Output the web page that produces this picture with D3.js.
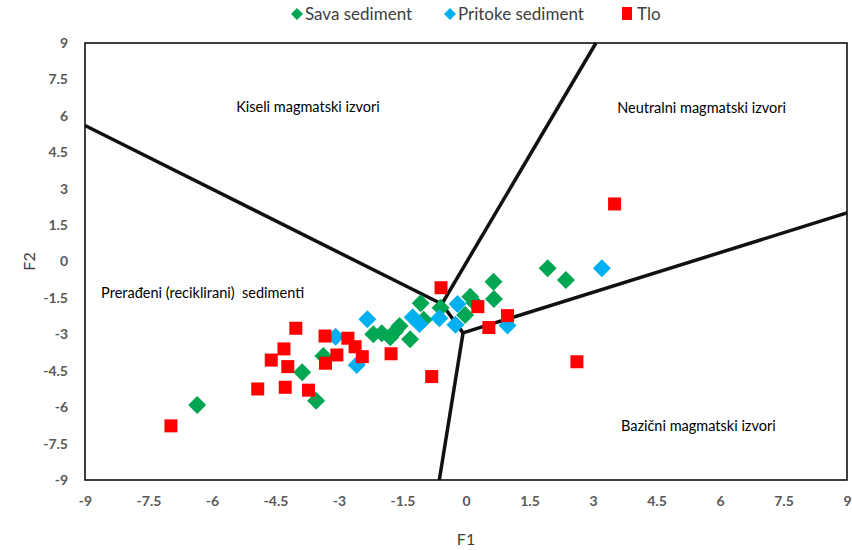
<!DOCTYPE html>
<html>
<head>
<meta charset="utf-8">
<script src="https://cdn.jsdelivr.net/npm/d3@7"></script>
<style>
  body { margin: 0; background: #fff; }
  svg { display: block; }
  .field-label { white-space: pre; }
</style>
</head>
<body>
<svg id="chart" width="852" height="550"></svg>
<script>
// ---- Data ----
const seriesNames = ["Sava sediment", "Pritoke sediment", "Tlo"];

const savaX = [-6.35, -3.87, -3.54, -3.37, -2.19, -1.99, -1.79, -1.57, -1.68, -1.32, -1.07, -0.6, 0.1, -0.02, 0.65, 0.66, 1.93, 2.36, -1.0, 0.2];
const savaY = [-5.91, -4.56, -5.74, -3.89, -3.0, -2.96, -3.12, -2.66, -2.89, -3.2, -1.72, -1.9, -1.45, -2.2, -0.83, -1.54, -0.28, -0.76, -2.4, -1.7];

const pritokeX = [-3.08, -2.58, -2.33, -1.26, -1.1, -0.63, -0.2, -0.25, 0.98, 3.21];
const pritokeY = [-3.1, -4.26, -2.38, -2.3, -2.57, -2.34, -1.75, -2.61, -2.64, -0.28];

const tloX = [-6.97, -4.92, -4.27, -3.72, -4.60, -4.21, -4.30, -4.02, -3.33, -3.32, -3.05, -2.79, -2.62, -2.45, -1.77, -0.81, -0.59, 0.28, 0.98, 0.54, 2.62, 3.51];
const tloY = [-6.77, -5.25, -5.18, -5.30, -4.06, -4.33, -3.60, -2.75, -3.07, -4.19, -3.85, -3.16, -3.51, -3.92, -3.80, -4.74, -1.08, -1.86, -2.23, -2.72, -4.13, 2.37];

// boundary lines (field divisions)
const boundaryLines = [
  [[-9, 5.6], [-0.57, -1.75]],
  [[3.07, 9], [-0.57, -1.75]],
  [[-0.57, -1.75], [-0.07, -2.94]],
  [[-0.07, -2.94], [-0.63, -9]],
  [[-0.07, -2.94], [9, 2.0]]
];

const fieldLabels = ["Kiseli magmatski izvori", "Neutralni magmatski izvori", "Prerađeni (reciklirani)  sedimenti", "Bazični magmatski izvori"];
const fieldLabelPos = [[-5.43, 6.16], [3.57, 6.12], [-8.62, -1.5], [3.66, -6.98]];

const tickValues = [-9, -7.5, -6, -4.5, -3, -1.5, 0, 1.5, 3, 4.5, 6, 7.5, 9];

// ---- Chart ----
const svg = d3.select("#chart");
const x = d3.scaleLinear().domain([-9, 9]).range([85, 847]);
const y = d3.scaleLinear().domain([-9, 9]).range([480, 43]);

const colors = ["#00A651", "#00B0F0", "#FF0000"];
const fontFam = "Lato, 'Open Sans', sans-serif";

// frame
svg.append("rect")
  .attr("x", x(-9)).attr("y", y(9))
  .attr("width", x(9) - x(-9)).attr("height", y(-9) - y(9))
  .attr("fill", "none").attr("stroke", "#000").attr("stroke-width", 1.5);

// axes (labels only)
const xAxis = d3.axisBottom(x).tickValues(tickValues).tickSize(0).tickPadding(16).tickFormat(d => String(d));
const gx = svg.append("g").attr("transform", `translate(0,${y(-9)})`).call(xAxis);
gx.select(".domain").remove();
gx.selectAll("text").attr("font-family", fontFam).attr("font-weight", "bold")
  .attr("font-size", 14).attr("fill", "#595959");

const yAxis = d3.axisLeft(y).tickValues(tickValues).tickSize(0).tickPadding(17).tickFormat(d => String(d));
const gy = svg.append("g").attr("transform", `translate(${x(-9)},0)`).call(yAxis);
gy.select(".domain").remove();
gy.selectAll("text").attr("font-family", fontFam).attr("font-weight", "bold")
  .attr("font-size", 14).attr("fill", "#595959");

// axis titles
svg.append("text").attr("x", (x(-9) + x(9)) / 2).attr("y", 545)
  .attr("text-anchor", "middle").attr("font-family", fontFam).attr("font-size", 16)
  .attr("fill", "#404040").text("F1");
svg.append("text").attr("transform", `translate(35,${y(0)}) rotate(-90)`)
  .attr("text-anchor", "middle").attr("font-family", fontFam).attr("font-size", 16)
  .attr("fill", "#404040").text("F2");

// boundary lines
const line = d3.line().x(d => x(d[0])).y(d => y(d[1]));
svg.append("g").selectAll("path").data(boundaryLines).join("path")
  .attr("d", line).attr("fill", "none").attr("stroke", "#111")
  .attr("stroke-width", 3.5).attr("stroke-linecap", "butt");

// field labels
svg.append("g").selectAll("text").data(fieldLabels).join("text")
  .attr("class", "field-label")
  .attr("x", (d, i) => x(fieldLabelPos[i][0]))
  .attr("y", (d, i) => y(fieldLabelPos[i][1]))
  .attr("font-family", fontFam).attr("font-size", 14.5).attr("fill", "#000")
  .text(d => d);

// points
const diamond = s => `M0,${-s}L${s},0L0,${s}L${-s},0Z`;
function drawDiamonds(xs, ys, color) {
  svg.append("g").selectAll("path").data(xs.map((v, i) => [v, ys[i]])).join("path")
    .attr("transform", d => `translate(${x(d[0])},${y(d[1])})`)
    .attr("d", diamond(9)).attr("fill", color);
}
drawDiamonds(savaX, savaY, colors[0]);
drawDiamonds(pritokeX, pritokeY, colors[1]);
svg.append("g").selectAll("rect").data(tloX.map((v, i) => [v, tloY[i]])).join("rect")
  .attr("x", d => x(d[0]) - 6.5).attr("y", d => y(d[1]) - 6.5)
  .attr("width", 13).attr("height", 13).attr("fill", colors[2]);

// legend
const legendX = [297, 450, 627];
const lg = svg.append("g");
seriesNames.forEach((name, i) => {
  const cx = legendX[i], cy = 14;
  if (i < 2) {
    lg.append("path").attr("transform", `translate(${cx},${cy})`).attr("d", diamond(6)).attr("fill", colors[i]);
  } else {
    lg.append("rect").attr("x", cx - 5).attr("y", cy - 7).attr("width", 10).attr("height", 13).attr("fill", colors[i]);
  }
  lg.append("text").attr("x", cx + (i < 2 ? 8 : 10)).attr("y", cy + 6)
    .attr("font-family", fontFam).attr("font-size", 17).attr("fill", "#404040").text(name);
});
</script>
</body>
</html>
